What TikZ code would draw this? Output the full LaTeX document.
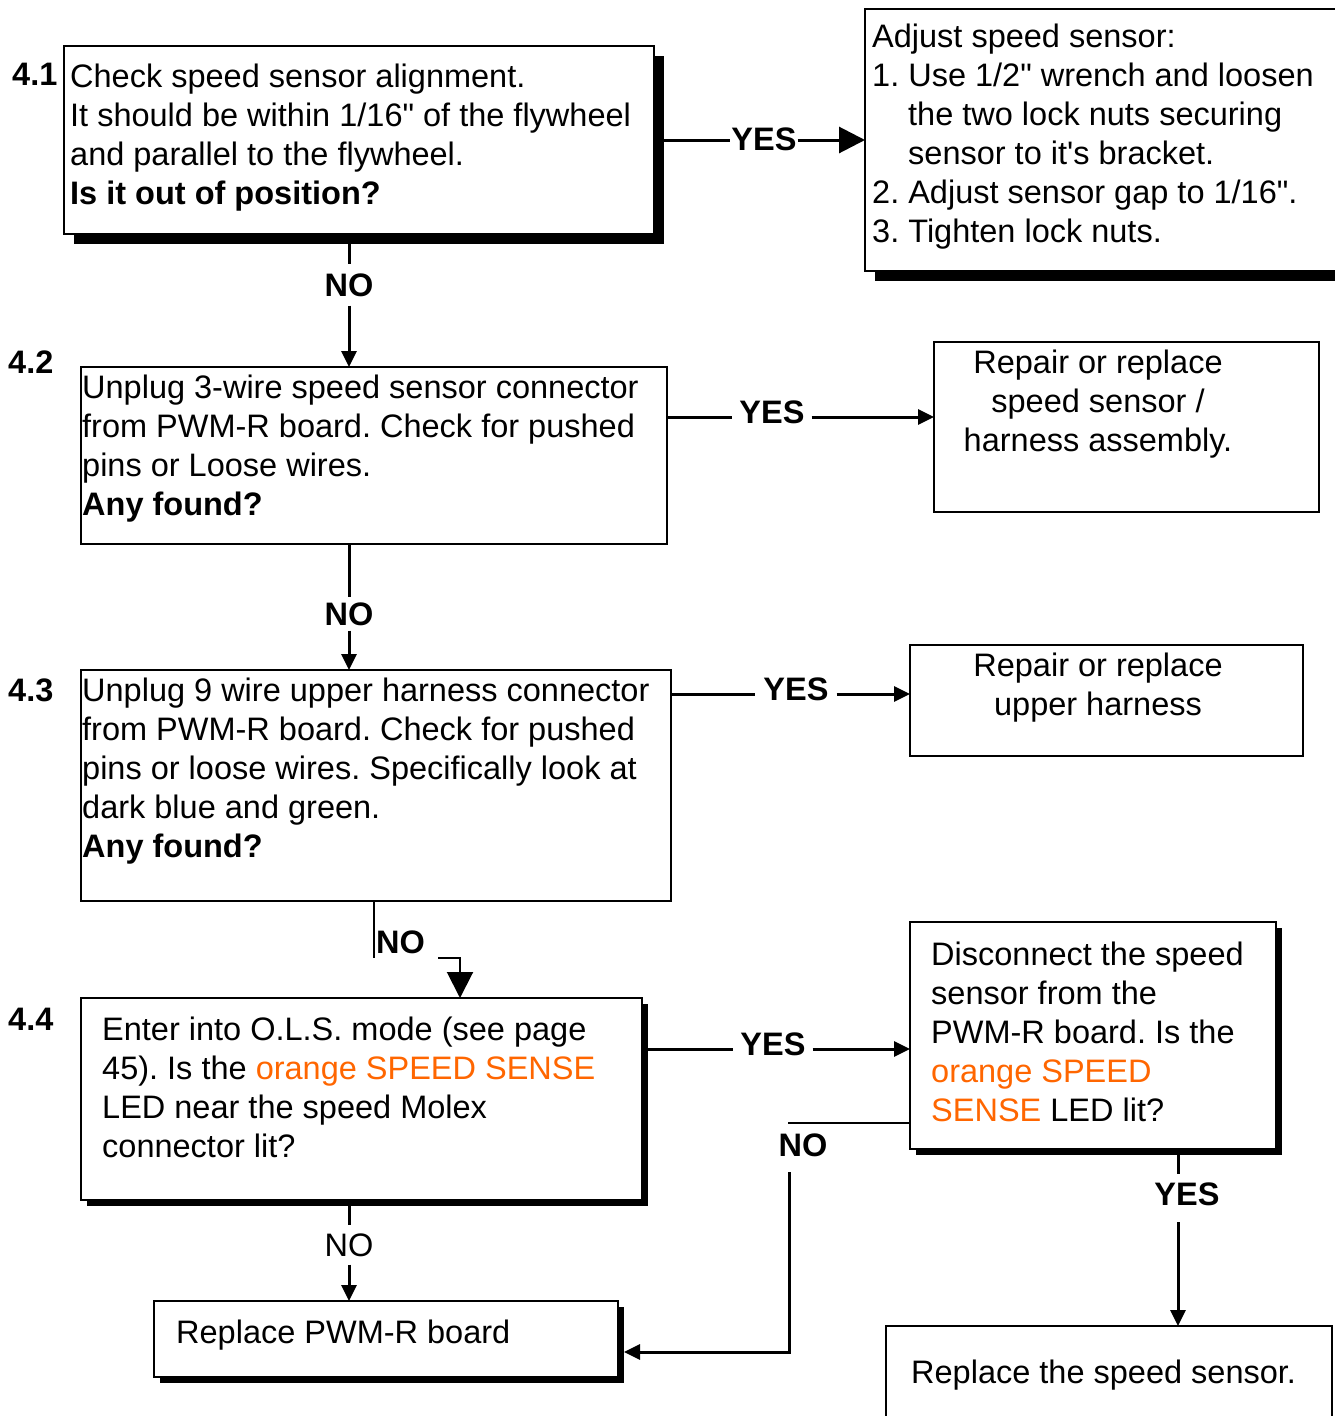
\documentclass[tikz,border=0pt]{standalone}
\usepackage{fontspec}
\setmainfont{Liberation Sans}
\newfontfamily\plainfont{Liberation Sans}
\usetikzlibrary{arrows.meta,shadows}
\definecolor{orng}{RGB}{255,102,0}
\newcommand{\dq}{{\plainfont"}}
\newcommand{\sq}{{\plainfont'}}
\frenchspacing
\begin{document}
\begin{tikzpicture}[x=1pt,y=-1pt,
  font=\fontsize{32.5}{39}\selectfont\frenchspacing,
  box/.style={draw,line width=2pt,fill=white,inner sep=0pt,outer sep=0pt,anchor=north west},
  shbig/.style={drop shadow={shadow xshift=10pt,shadow yshift=-10pt,opacity=1,fill=black}},
  shsm/.style={drop shadow={shadow xshift=6pt,shadow yshift=-6pt,opacity=1,fill=black}},
  txt/.style={anchor=base west,inner sep=0pt,align=left},
  ctxt/.style={anchor=base,inner sep=0pt,align=center},
  num/.style={anchor=base west,inner sep=0pt,font=\fontsize{32.5}{39}\selectfont\bfseries},
  conn/.style={line width=3pt},
  thin/.style={line width=2pt},
  lbl/.style={inner sep=0pt,font=\fontsize{32.5}{39}\selectfont\bfseries},
  sarr/.style={-{Triangle[length=16pt,width=15pt]}},
  barr/.style={-{Triangle[length=26pt,width=26pt]}},
]
\useasboundingbox (0,0) rectangle (1335,1416);
\clip (0,0) rectangle (1335,1416);

% boxes
\node[box,shbig,minimum width=590pt,minimum height=188pt] (b41) at (64,46) {};
\node[box,shbig,minimum width=490pt,minimum height=262pt] (adj) at (865,9) {};
\node[box,minimum width=586pt,minimum height=177pt] (b42) at (81,367) {};
\node[box,minimum width=385pt,minimum height=170pt] (r1) at (934,342) {};
\node[box,minimum width=590pt,minimum height=231pt] (b43) at (81,670) {};
\node[box,minimum width=393pt,minimum height=111pt] (r2) at (910,645) {};
\node[box,shsm,minimum width=561pt,minimum height=202pt] (b44) at (81,998) {};
\node[box,shsm,minimum width=366pt,minimum height=227pt] (disc) at (910,922) {};
\node[box,shsm,minimum width=464pt,minimum height=76pt] (rpwm) at (154,1301) {};
\node[box,minimum width=446pt,minimum height=130pt] (rss) at (886,1326) {};

% step numbers
\node[num] (n41) at (12,85) {4.1};
\node[num] (n42) at (8,373) {4.2};
\node[num] (n43) at (8,701) {4.3};
\node[num] (n44) at (8,1030) {4.4};

% texts (anchored at the baseline of their last line)
\node[txt] (t41) at (70,204) {Check speed sensor alignment.\\It should be within 1/16\dq{} of the flywheel\\and parallel to the flywheel.\\\textbf{Is it out of position?}};
\node[txt] (tadj) at (872,242) {Adjust speed sensor:\\1. Use 1/2\dq{} wrench and loosen\\\hspace*{36pt}the two lock nuts securing\\\hspace*{36pt}sensor to it\sq{}s bracket.\\2. Adjust sensor gap to 1/16\dq.\\3. Tighten lock nuts.};
\node[txt] (t42) at (82,515) {Unplug 3-wire speed sensor connector\\from PWM-R board. Check for pushed\\pins or Loose wires.\\\textbf{Any found?}};
\node[ctxt] (tr1) at (1098,451) {Repair or replace\\speed sensor /\\harness assembly.};
\node[txt] (t43) at (82,857) {Unplug 9 wire upper harness connector\\from PWM-R board. Check for pushed\\pins or loose wires. Specifically look at\\dark blue and green.\\\textbf{Any found?}};
\node[ctxt] (tr2) at (1098,715) {Repair or replace\\upper harness};
\node[txt] (t44) at (102,1157) {Enter into O.L.S. mode (see page\\45). Is the \textcolor{orng}{orange SPEED SENSE}\\LED near the speed Molex\\connector lit?};
\node[txt] (tdisc) at (931,1121) {Disconnect the speed\\sensor from the\\PWM-R board. Is the\\\textcolor{orng}{orange SPEED}\\\textcolor{orng}{SENSE} LED lit?};
\node[txt] (trpwm) at (176,1343) {Replace PWM-R board};
\node[txt] (trss) at (911,1383) {Replace the speed sensor.};

% 4.1 -> adjust (YES)
\coordinate (c1) at (0,140);
\node[lbl,inner xsep=1pt] (yes1) at (764,139) {YES};
\draw[conn] (b41.east |- c1) -- (yes1.west |- c1);
\draw[conn,barr] (yes1.east |- c1) -- (adj.west |- c1);

% 4.1 -> 4.2 (NO)
\coordinate (c2) at (349,0);
\node[lbl,inner ysep=9pt] (no1) at (349,285) {NO};
\draw[conn] (c2 |- b41.south) -- (c2 |- no1.north);
\draw[conn,sarr] (c2 |- no1.south) -- (c2 |- b42.north);

% 4.2 -> r1 (YES)
\coordinate (c3) at (0,417);
\node[lbl,inner xsep=7pt] (yes2) at (772,412) {YES};
\draw[conn] (b42.east |- c3) -- (yes2.west |- c3);
\draw[conn,sarr] (yes2.east |- c3) -- (r1.west |- c3);

% 4.2 -> 4.3 (NO)
\node[lbl,inner ysep=5pt] (no2) at (349,614) {NO};
\draw[conn] (c2 |- b42.south) -- (c2 |- no2.north);
\draw[conn,sarr] (c2 |- no2.south) -- (c2 |- b43.north);

% 4.3 -> r2 (YES)
\coordinate (c4) at (0,694);
\node[lbl,inner xsep=8pt] (yes3) at (796,689) {YES};
\draw[conn] (b43.east |- c4) -- (yes3.west |- c4);
\draw[conn,sarr] (yes3.east |- c4) -- (r2.west |- c4);

% 4.3 -> 4.4 (NO)
\coordinate (k1) at (374,958);
\coordinate (k2) at (438,958);
\coordinate (k3) at (460,958);
\draw[thin] (k1 |- b43.south) -- (k1);
\node[lbl,anchor=west] (no3) at (376,942) {NO};
\draw[thin,barr] (k2) -- (k3) -- (k3 |- b44.north);

% 4.4 -> disc (YES)
\coordinate (c5) at (0,1049);
\node[lbl,inner xsep=7pt] (yes4) at (773,1044) {YES};
\draw[conn] (b44.east |- c5) -- (yes4.west |- c5);
\draw[conn,sarr] (yes4.east |- c5) -- (disc.west |- c5);

% 4.4 -> rpwm (NO)
\node[inner ysep=8pt,inner xsep=0pt] (no5) at (349,1245) {NO};
\draw[conn] (c2 |- b44.south) -- (c2 |- no5.north);
\draw[conn,sarr] (c2 |- no5.south) -- (c2 |- rpwm.north);

% disc -> rpwm (NO)
\coordinate (d1) at (788,1123);
\coordinate (d2) at (789,1172);
\coordinate (d3) at (789,1352);
\draw[thin] (disc.west |- d1) -- (d1);
\node[lbl] (no4) at (803,1145) {NO};
\draw[conn,sarr] (d2) -- (d3) -- ([xshift=6pt]rpwm.east |- d3);

% disc -> rss (YES)
\coordinate (c6) at (1178,0);
\coordinate (c7) at (0,1174);
\coordinate (c8) at (0,1222);
\node[lbl] (yes5) at (1187,1194) {YES};
\draw[conn] (c6 |- disc.south) -- (c6 |- c7);
\draw[conn,sarr] (c6 |- c8) -- (c6 |- rss.north);
\end{tikzpicture}
\end{document}
